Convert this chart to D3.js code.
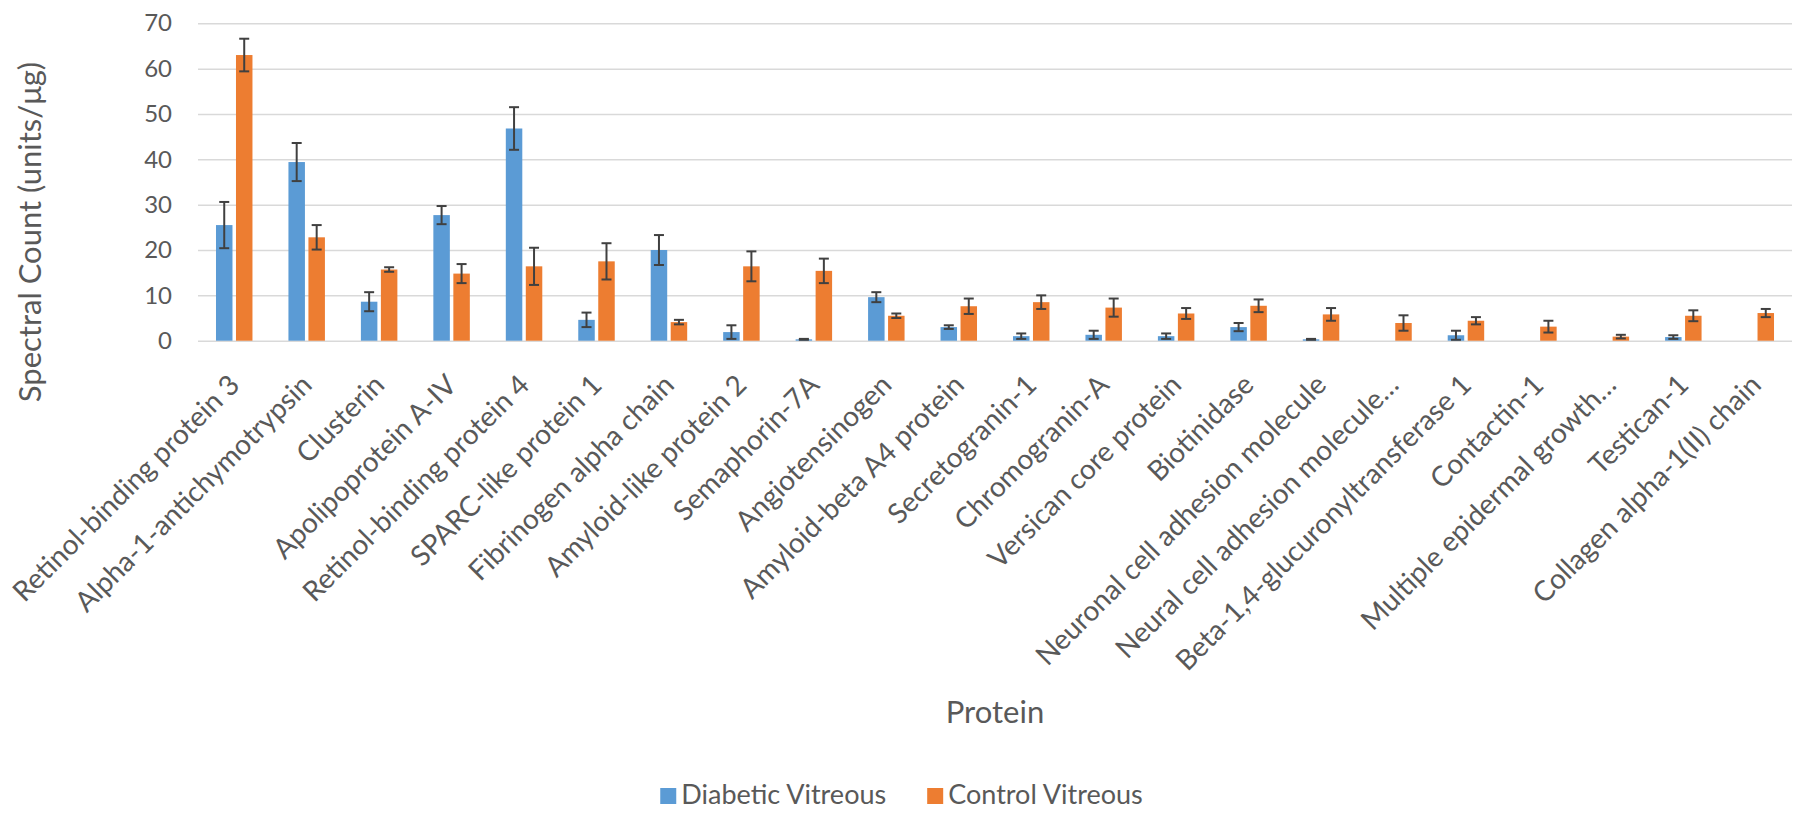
<!DOCTYPE html>
<html>
<head>
<meta charset="utf-8">
<script src="https://cdn.jsdelivr.net/npm/d3@7"></script>
<style>
  html, body { margin: 0; padding: 0; background: #fff; }
  svg { display: block; font-family: Lato, "Open Sans", sans-serif; }
</style>
</head>
<body>
<svg id="chart" width="1803" height="814"></svg>
<script>
const categories = [
  "Retinol-binding protein 3", "Alpha-1-antichymotrypsin", "Clusterin", "Apolipoprotein A-IV",
  "Retinol-binding protein 4", "SPARC-like protein 1", "Fibrinogen alpha chain", "Amyloid-like protein 2",
  "Semaphorin-7A", "Angiotensinogen", "Amyloid-beta A4 protein", "Secretogranin-1",
  "Chromogranin-A", "Versican core protein", "Biotinidase", "Neuronal cell adhesion molecule",
  "Neural cell adhesion molecule…", "Beta-1,4-glucuronyltransferase 1", "Contactin-1",
  "Multiple epidermal growth…", "Testican-1", "Collagen alpha-1(II) chain"
];
const seriesNames = ["Diabetic Vitreous", "Control Vitreous"];
const diabetic    = [25.5, 39.4, 8.6, 27.7, 46.8, 4.6, 20.0, 1.9, 0.3, 9.6, 3.0, 1.0, 1.3, 1.0, 3.0, 0.3, 0, 1.2, 0, 0, 0.8, 0];
const diabeticErr = [5.1, 4.2, 2.1, 2.0, 4.7, 1.6, 3.3, 1.5, 0.1, 1.1, 0.4, 0.6, 0.9, 0.6, 0.9, 0.1, 0, 1.0, 0, 0, 0.4, 0];
const control     = [63.0, 22.8, 15.7, 14.8, 16.4, 17.5, 4.1, 16.4, 15.4, 5.5, 7.6, 8.5, 7.3, 6.0, 7.7, 5.8, 3.9, 4.4, 3.1, 0.9, 5.5, 6.1];
const controlErr  = [3.6, 2.7, 0.5, 2.1, 4.1, 4.0, 0.5, 3.3, 2.7, 0.5, 1.7, 1.5, 2.0, 1.2, 1.4, 1.4, 1.7, 0.8, 1.3, 0.4, 1.2, 0.9];
const yTicks = [0, 10, 20, 30, 40, 50, 60, 70];
const colors = ["#5B9BD5", "#ED7D31"];

const svg = d3.select("#chart");
const W = 1803, H = 814;
const plot = { left: 198, right: 1792, top: 23.3, bottom: 340.7 };
const textColor = "#595959";

const x0 = d3.scaleBand().domain(categories).range([plot.left, plot.right]).paddingInner(0).paddingOuter(0);
const x1 = d3.scaleBand().domain(seriesNames).range([0, x0.bandwidth()]).paddingInner(0.175).paddingOuter(0.9);
const y = d3.scaleLinear().domain([0, 70]).range([plot.bottom, plot.top]);
const color = d3.scaleOrdinal().domain(seriesNames).range(colors);

// gridlines
svg.append("g")
  .attr("transform", `translate(${plot.left},0)`)
  .call(d3.axisLeft(y).tickValues(yTicks).tickSize(-(plot.right - plot.left)).tickFormat(""))
  .call(g => g.select(".domain").remove())
  .call(g => g.selectAll(".tick line").attr("stroke", "#d9d9d9").attr("stroke-width", 1.5));

// y tick labels
svg.append("g")
  .attr("transform", `translate(${plot.left},0)`)
  .call(d3.axisLeft(y).tickValues(yTicks).tickSize(0).tickPadding(26))
  .call(g => g.select(".domain").remove())
  .call(g => g.selectAll("text")
    .attr("fill", textColor).style("font-size", "24px").style("font-family", "Lato, 'Open Sans', sans-serif"));

// data table
const rows = categories.map((c, i) => ({
  cat: c,
  vals: [
    { s: seriesNames[0], v: diabetic[i], e: diabeticErr[i] },
    { s: seriesNames[1], v: control[i], e: controlErr[i] }
  ]
}));

const groups = svg.append("g").selectAll("g").data(rows).join("g")
  .attr("transform", d => `translate(${x0(d.cat)},0)`);

groups.selectAll("rect").data(d => d.vals).join("rect")
  .attr("x", d => x1(d.s))
  .attr("width", x1.bandwidth())
  .attr("y", d => y(d.v))
  .attr("height", d => y(0) - y(d.v))
  .attr("fill", d => color(d.s));

// error bars
const capW = 10;
const eb = groups.selectAll("g.err").data(d => d.vals.filter(v => v.v > 0 || v.e > 0)).join("g").attr("class", "err")
  .attr("stroke", "#404040").attr("stroke-width", 2);
eb.append("line")
  .attr("x1", d => x1(d.s) + x1.bandwidth() / 2).attr("x2", d => x1(d.s) + x1.bandwidth() / 2)
  .attr("y1", d => y(Math.max(0, d.v - d.e))).attr("y2", d => y(d.v + d.e));
eb.append("line")
  .attr("x1", d => x1(d.s) + x1.bandwidth() / 2 - capW / 2).attr("x2", d => x1(d.s) + x1.bandwidth() / 2 + capW / 2)
  .attr("y1", d => y(d.v + d.e)).attr("y2", d => y(d.v + d.e));
eb.append("line")
  .attr("x1", d => x1(d.s) + x1.bandwidth() / 2 - capW / 2).attr("x2", d => x1(d.s) + x1.bandwidth() / 2 + capW / 2)
  .attr("y1", d => y(Math.max(0, d.v - d.e))).attr("y2", d => y(Math.max(0, d.v - d.e)));

// x axis labels
svg.append("g")
  .attr("transform", `translate(0,${plot.bottom})`)
  .call(d3.axisBottom(x0).tickSize(0))
  .call(g => g.select(".domain").remove())
  .call(g => g.selectAll("text")
    .attr("fill", textColor)
    .style("font-size", "28px").style("font-family", "Lato, 'Open Sans', sans-serif")
    .attr("text-anchor", "end")
    .attr("x", 0).attr("y", 0).attr("dy", "0.35em")
    .attr("transform", "translate(0,39) rotate(-45)"));

// axis titles
svg.append("text")
  .attr("transform", "translate(41,232) rotate(-90)")
  .attr("text-anchor", "middle")
  .attr("fill", textColor).style("font-size", "31px")
  .text("Spectral Count (units/μg)");

svg.append("text")
  .attr("x", (plot.left + plot.right) / 2).attr("y", 723)
  .attr("text-anchor", "middle")
  .attr("fill", textColor).style("font-size", "31px")
  .text("Protein");

// legend
const legend = svg.append("g");
const items = legend.selectAll("g").data(seriesNames).join("g");
items.append("rect").attr("width", 16).attr("height", 16).attr("y", 788).attr("fill", d => color(d));
items.append("text").attr("x", 21).attr("y", 804).attr("fill", textColor).style("font-size", "27px").text(d => d);
const widths = [];
items.each(function(d) { widths.push(21 + this.querySelector("text").getComputedTextLength()); });
const gap = 41;
const total = d3.sum(widths) + gap * (widths.length - 1);
let start = W / 2 - total / 2;
items.attr("transform", (d, i) => {
  const t = `translate(${start},0)`;
  start += widths[i] + gap;
  return t;
});
</script>
</body>
</html>
